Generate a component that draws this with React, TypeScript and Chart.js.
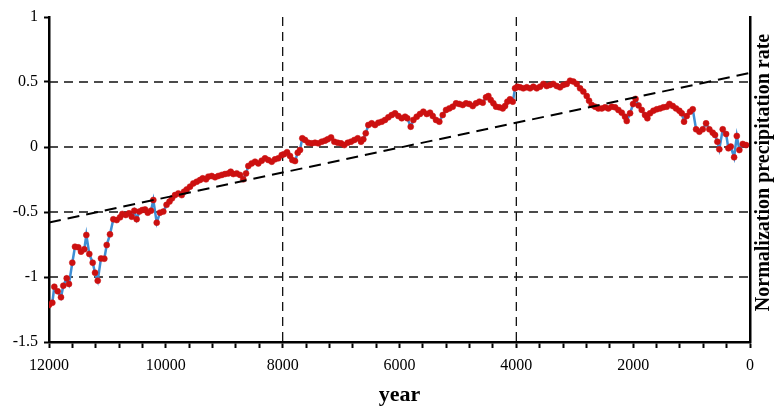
import React, { useEffect, useRef } from 'react';
import { Chart, registerables } from 'chart.js';

Chart.register(...registerables);

const FONT = "'Liberation Serif', 'Times New Roman', serif";

const years = [
  12000, 11943, 11909, 11851, 11795, 11755, 11697, 11658, 11601, 11555,
  11498, 11452, 11396, 11361, 11310, 11252, 11212, 11166, 11110, 11053,
  11012, 10956, 10899, 10841, 10784, 10745, 10687, 10630, 10584, 10540,
  10499, 10454, 10403, 10356, 10310, 10254, 10214, 10156, 10100, 10043,
  9988, 9937, 9894, 9843, 9786, 9728, 9689, 9643, 9586, 9530,
  9471, 9415, 9369, 9312, 9273, 9215, 9158, 9102, 9043, 8987,
  8930, 8889, 8845, 8787, 8730, 8674, 8627, 8588, 8530, 8473,
  8417, 8359, 8302, 8246, 8187, 8131, 8074, 8016, 7977, 7925,
  7874, 7835, 7788, 7742, 7703, 7664, 7617, 7561, 7503, 7446,
  7390, 7331, 7275, 7229, 7172, 7116, 7058, 7001, 6945, 6886,
  6830, 6773, 6715, 6659, 6619, 6578, 6534, 6476, 6419, 6362,
  6304, 6248, 6191, 6133, 6076, 6020, 5962, 5905, 5866, 5808,
  5763, 5705, 5649, 5592, 5534, 5477, 5431, 5375, 5318, 5260,
  5203, 5147, 5089, 5032, 4976, 4918, 4861, 4805, 4746, 4690,
  4633, 4575, 4519, 4479, 4438, 4393, 4347, 4291, 4233, 4193,
  4154, 4108, 4061, 4022, 3983, 3936, 3880, 3822, 3765, 3709,
  3651, 3594, 3538, 3480, 3423, 3367, 3308, 3252, 3195, 3137,
  3080, 3024, 2966, 2909, 2853, 2795, 2755, 2709, 2652, 2596,
  2538, 2481, 2425, 2367, 2310, 2253, 2195, 2139, 2110, 2053,
  2002, 1959, 1908, 1853, 1797, 1757, 1711, 1654, 1596, 1539,
  1483, 1425, 1380, 1322, 1266, 1209, 1168, 1129, 1083, 1026,
  980, 923, 867, 809, 752, 696, 638, 598, 559, 525,
  467, 409, 370, 329, 272, 226, 182, 124, 67,
];

const precip = [
  -1.215, -1.198, -1.075, -1.11, -1.156, -1.067, -1.01, -1.054, -0.89, -0.767,
  -0.772, -0.805, -0.787, -0.677, -0.823, -0.89, -0.967, -1.028, -0.857, -0.859,
  -0.754, -0.672, -0.556, -0.562, -0.541, -0.515, -0.523, -0.51, -0.536, -0.49,
  -0.556, -0.497, -0.485, -0.48, -0.505, -0.49, -0.408, -0.582, -0.505, -0.497,
  -0.445, -0.42, -0.395, -0.37, -0.357, -0.37, -0.344, -0.326, -0.305, -0.28,
  -0.267, -0.254, -0.241, -0.249, -0.228, -0.223, -0.233, -0.223, -0.215, -0.208,
  -0.203, -0.19, -0.208, -0.203, -0.215, -0.249, -0.203, -0.146, -0.126, -0.113,
  -0.126, -0.105, -0.087, -0.1, -0.113, -0.095, -0.087, -0.062, -0.055, -0.04,
  -0.069, -0.1, -0.108, -0.044, -0.023, 0.067, 0.054, 0.033, 0.028, 0.033,
  0.028, 0.041, 0.049, 0.059, 0.074, 0.041, 0.033, 0.028, 0.015, 0.033,
  0.041, 0.054, 0.067, 0.041, 0.059, 0.105, 0.169, 0.182, 0.169, 0.187,
  0.195, 0.208, 0.228, 0.246, 0.259, 0.238, 0.221, 0.233, 0.221, 0.156,
  0.208, 0.233, 0.254, 0.272, 0.254, 0.264, 0.238, 0.208, 0.195, 0.246,
  0.285, 0.297, 0.31, 0.336, 0.331, 0.323, 0.336, 0.331, 0.315, 0.336,
  0.349, 0.341, 0.382, 0.392, 0.362, 0.336, 0.31, 0.305, 0.297, 0.315,
  0.349, 0.367, 0.349, 0.451, 0.464, 0.459, 0.451, 0.459, 0.451, 0.464,
  0.451, 0.464, 0.485, 0.469, 0.477, 0.485, 0.469, 0.459, 0.477, 0.485,
  0.51, 0.503, 0.485, 0.451, 0.426, 0.392, 0.356, 0.323, 0.31, 0.297,
  0.297, 0.305, 0.297, 0.31, 0.305, 0.285, 0.264, 0.233, 0.2, 0.26,
  0.33, 0.37, 0.32, 0.285, 0.246, 0.221, 0.259, 0.279, 0.29, 0.297,
  0.305, 0.31, 0.331, 0.315, 0.297, 0.279, 0.259, 0.195, 0.238, 0.272,
  0.29, 0.136, 0.118, 0.136, 0.182, 0.136, 0.11, 0.092, 0.041, -0.018,
  0.136, 0.1, -0.01, 0.003, -0.079, 0.085, -0.023, 0.023, 0.015,
];

const trendYears = [12000, 0];
const trendValues = [-0.58, 0.57];

const xGridYears = [8000, 4000];
const yGridValues = [0.5, 0, -0.5, -1];

const xTitle = 'year';
const yTitle = 'Normalization precipitation rate';

const dashGridPlugin = {
  id: 'dashGrid',
  beforeDatasetsDraw(chart: any) {
    const { ctx, chartArea: a, scales } = chart;
    ctx.save();
    ctx.strokeStyle = '#111';
    ctx.lineWidth = 1.3;
    ctx.setLineDash([9, 6]);
    xGridYears.forEach((v) => {
      const px = scales.x.getPixelForValue(v);
      ctx.beginPath();
      ctx.moveTo(px, a.top);
      ctx.lineTo(px, a.bottom);
      ctx.stroke();
    });
    yGridValues.forEach((v) => {
      const py = scales.y.getPixelForValue(v);
      ctx.beginPath();
      ctx.moveTo(a.left, py);
      ctx.lineTo(a.right, py);
      ctx.stroke();
    });
    ctx.restore();
  },
};

const rightTitlePlugin = {
  id: 'rightTitle',
  afterDraw(chart: any) {
    const { ctx, chartArea: a } = chart;
    ctx.save();
    ctx.translate(a.right + 14, (a.top + a.bottom) / 2 - 7);
    ctx.rotate(-Math.PI / 2);
    ctx.font = `bold 20px ${FONT}`;
    ctx.fillStyle = '#000';
    ctx.textAlign = 'center';
    ctx.textBaseline = 'middle';
    ctx.fillText(yTitle, 0, 0);
    ctx.restore();
  },
};

export default function App() {
  const ref = useRef<HTMLCanvasElement | null>(null);

  useEffect(() => {
    if (!ref.current) return;
    const chart = new Chart(ref.current, {
      type: 'line',
      data: {
        datasets: [
          {
            label: 'trend',
            data: trendYears.map((x, i) => ({ x, y: trendValues[i] })),
            borderColor: '#000',
            borderWidth: 2,
            borderDash: [12, 7],
            pointRadius: 0,
            fill: false,
            order: 0,
          },
          {
            label: 'precip',
            data: years.map((x, i) => ({ x, y: precip[i] })),
            borderColor: 'rgb(62,142,212)',
            borderWidth: 2.5,
            pointRadius: 3,
            pointBackgroundColor: 'rgb(204,16,16)',
            pointBorderColor: 'rgb(204,16,16)',
            pointBorderWidth: 0.5,
            tension: 0,
            fill: false,
            order: 1,
          },
        ],
      },
      options: {
        animation: false,
        responsive: false,
        maintainAspectRatio: false,
        layout: { padding: { top: 17, left: 0, right: 0, bottom: 0 } },
        plugins: { legend: { display: false }, tooltip: { enabled: false } },
        scales: {
          x: {
            type: 'linear',
            reverse: true,
            min: 0,
            max: 12000,
            position: 'bottom',
            afterFit: (s: any) => {
              s.height = 68;
            },
            ticks: {
              stepSize: 400,
              autoSkip: false,
              maxRotation: 0,
              minRotation: 0,
              color: '#000',
              padding: 8,
              font: { family: FONT, size: 16 },
              callback: (v: any) => (Math.round(Number(v)) % 2000 === 0 ? String(Math.round(Number(v))) : ''),
            },
            grid: {
              drawOnChartArea: false,
              drawTicks: true,
              tickLength: 6,
              tickWidth: 2,
              tickColor: '#000',
              color: '#000',
            },
            border: { display: true, color: '#000', width: 2.5 },
            title: {
              display: true,
              text: xTitle,
              color: '#000',
              font: { family: FONT, size: 22, weight: 'bold' },
              padding: { top: 0, bottom: 1 },
            },
          },
          y: {
            type: 'linear',
            min: -1.5,
            max: 1,
            position: 'left',
            afterFit: (s: any) => {
              s.width = 49;
            },
            ticks: {
              stepSize: 0.5,
              color: '#000',
              padding: 6,
              font: { family: FONT, size: 16 },
              callback: (v: any) => String(Math.round(Number(v) * 10) / 10),
            },
            grid: {
              drawOnChartArea: false,
              drawTicks: true,
              tickLength: 5,
              tickWidth: 2,
              tickColor: '#000',
              color: '#000',
            },
            border: { display: true, color: '#000', width: 2.5 },
          },
          y2: {
            type: 'linear',
            min: -1.5,
            max: 1,
            position: 'right',
            afterFit: (s: any) => {
              s.width = 25;
            },
            ticks: { display: false },
            grid: { drawOnChartArea: false, drawTicks: false },
            border: { display: true, color: '#000', width: 2.5 },
          },
        },
      } as any,
      plugins: [dashGridPlugin, rightTitlePlugin],
    });
    return () => chart.destroy();
  }, []);

  return (
    <div style={{ position: 'absolute', left: 0, top: 0, width: 775, height: 410, background: '#fff' }}>
      <canvas ref={ref} width={775} height={410} style={{ display: 'block' }} />
    </div>
  );
}
